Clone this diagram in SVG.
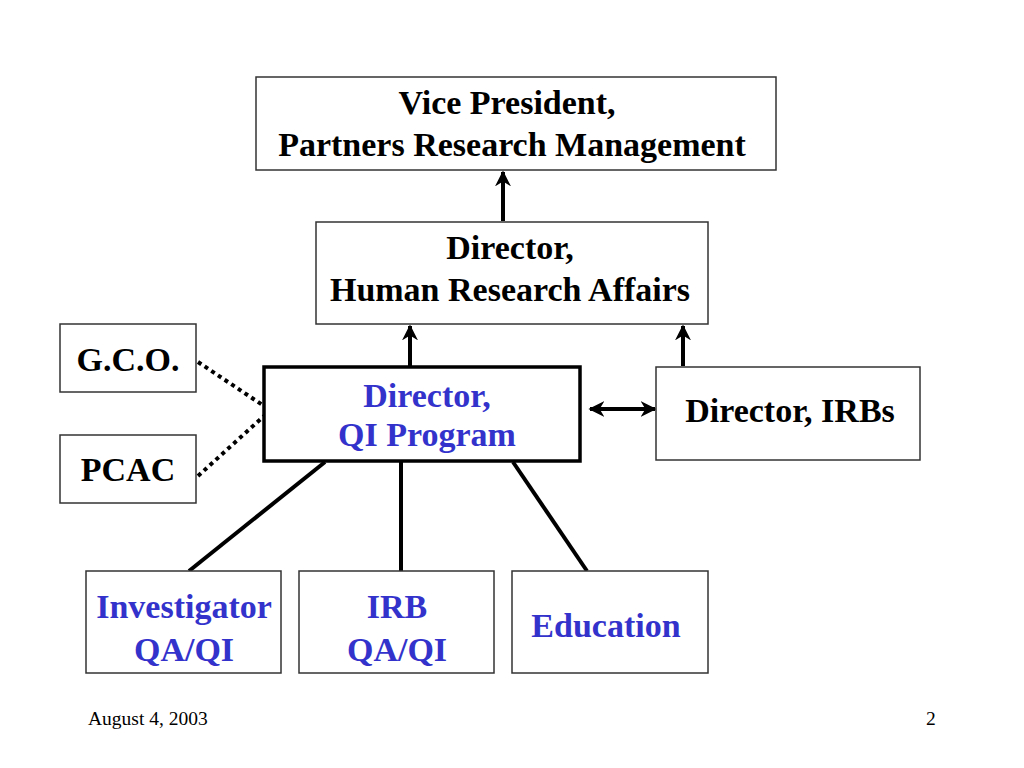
<svg xmlns="http://www.w3.org/2000/svg" width="1024" height="768" viewBox="0 0 1024 768">
<style>
.box{fill:#fff;stroke:#333;stroke-width:1.5}
.main{fill:#fff;stroke:#000;stroke-width:3.5}
.t{font-family:"Liberation Serif","Times New Roman",serif;font-weight:bold;font-size:34px;text-anchor:middle;fill:#000}
.b{fill:#3333cc}
.ln{stroke:#000;stroke-width:4;fill:none}
.dot{stroke:#000;stroke-width:4;stroke-dasharray:4 4;fill:none}
.ft{font-family:"Liberation Serif","Times New Roman",serif;font-size:19.5px;fill:#000}
</style>
<defs>
<marker id="ah" viewBox="0 0 10 10" refX="9" refY="5" markerWidth="4" markerHeight="4" orient="auto-start-reverse" markerUnits="strokeWidth">
<path d="M0,0 L10,5 L0,10 L3,5 Z" fill="#000"/>
</marker>
</defs>
<rect width="1024" height="768" fill="#fff"/>
<g id="connectors">
<line class="ln" x1="503" y1="221" x2="503" y2="172" marker-end="url(#ah)"/>
<line class="ln" x1="410" y1="366" x2="410" y2="326" marker-end="url(#ah)"/>
<line class="ln" x1="683" y1="366" x2="683" y2="326" marker-end="url(#ah)"/>
<line class="ln" x1="590" y1="409" x2="655" y2="409" marker-start="url(#ah)" marker-end="url(#ah)"/>
<line class="ln" x1="325" y1="462" x2="189" y2="571"/>
<line class="ln" x1="401" y1="462" x2="401" y2="571"/>
<line class="ln" x1="513" y1="462" x2="587" y2="571"/>
<line class="dot" x1="198" y1="362" x2="264" y2="406"/>
<line class="dot" x1="198" y1="476" x2="264" y2="416"/>
</g>
<g id="vp">
<rect class="box" x="256" y="77" width="520" height="93"/>
<text class="t" x="507" y="114">Vice President,</text>
<text class="t" x="512" y="156">Partners Research Management</text>
</g>
<g id="hra">
<rect class="box" x="316" y="222" width="392" height="102"/>
<text class="t" x="510" y="259">Director,</text>
<text class="t" x="510" y="301">Human Research Affairs</text>
</g>
<g id="gco">
<rect class="box" x="60" y="324" width="136" height="68"/>
<text class="t" x="128" y="371">G.C.O.</text>
</g>
<g id="pcac">
<rect class="box" x="60" y="435" width="136" height="68"/>
<text class="t" x="128" y="481">PCAC</text>
</g>
<g id="qi">
<rect class="main" x="264" y="367" width="316" height="94"/>
<text class="t b" x="427" y="407">Director,</text>
<text class="t b" x="427" y="446">QI Program</text>
</g>
<g id="irbs">
<rect class="box" x="656" y="367" width="264" height="93"/>
<text class="t" x="790" y="422">Director, IRBs</text>
</g>
<g id="inv">
<rect class="box" x="86" y="571" width="195" height="102"/>
<text class="t b" x="184" y="618">Investigator</text>
<text class="t b" x="184" y="661">QA/QI</text>
</g>
<g id="irbqa">
<rect class="box" x="299" y="571" width="195" height="102"/>
<text class="t b" x="397" y="618">IRB</text>
<text class="t b" x="397" y="661">QA/QI</text>
</g>
<g id="edu">
<rect class="box" x="512" y="571" width="196" height="102"/>
<text class="t b" x="606" y="637">Education</text>
</g>
<text class="ft" x="88" y="725">August 4, 2003</text>
<text class="ft" x="926" y="725">2</text>
</svg>
